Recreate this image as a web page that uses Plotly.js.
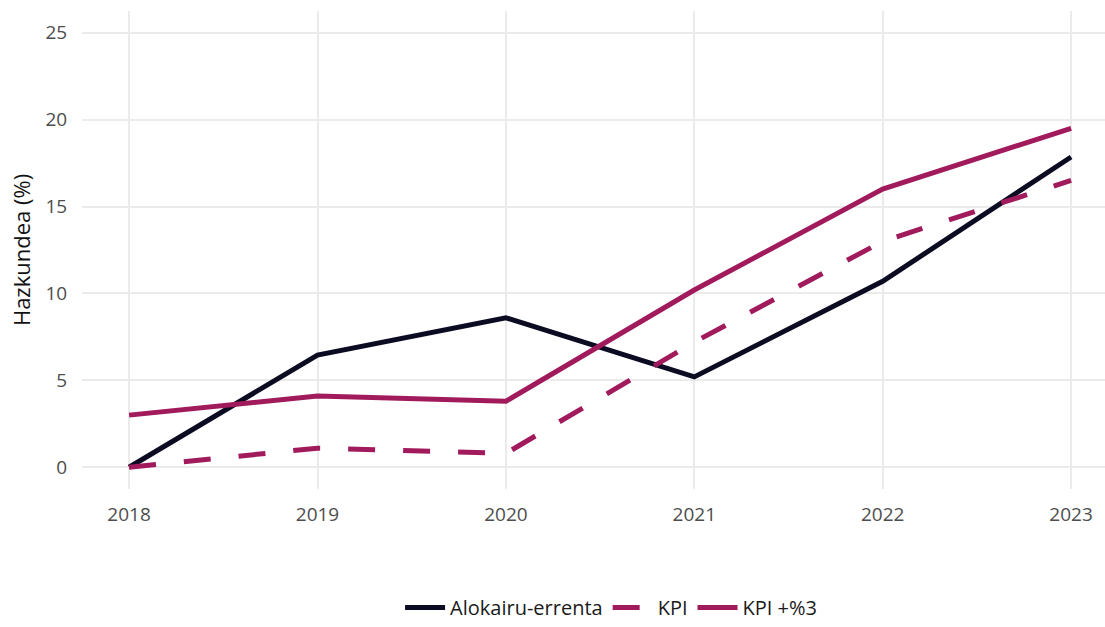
<!DOCTYPE html>
<html>
<head>
<meta charset="utf-8">
<script src="https://cdn.plot.ly/plotly-3.0.1.min.js"></script>
<style>html,body{margin:0;padding:0;background:#fff;}#chart{width:1105px;height:627px;}</style>
</head>
<body>
<div id="chart"></div>
<script>
const years = [2018, 2019, 2020, 2021, 2022, 2023];
const alokairu = [0, 6.45, 8.6, 5.2, 10.7, 17.85];
const kpi = [0, 1.1, 0.8, 7.2, 13.0, 16.5];
const kpi3 = [3.0, 4.1, 3.8, 10.2, 16.0, 19.5];
const seriesNames = ["Alokairu-errenta", "KPI", "KPI +%3"];

const dark = "#0b0b22";
const mag = "#a01a5c";

const traces = [
  {x: years, y: alokairu, name: seriesNames[0], mode: "lines", line: {color: dark, width: 5}},
  {x: years, y: kpi, name: seriesNames[1], mode: "lines", line: {color: mag, width: 5, dash: "27px,28px"}},
  {x: years, y: kpi3, name: seriesNames[2], mode: "lines", line: {color: mag, width: 5}}
];

const fontFam = "'Open Sans', 'Liberation Sans', sans-serif";
const layout = {
  width: 1105, height: 627,
  margin: {l: 82, r: 0, t: 11, b: 138},
  paper_bgcolor: "#fff", plot_bgcolor: "#fff",
  font: {family: fontFam, size: 19, color: "#4d4d4d"},
  showlegend: true,
  legend: {orientation: "h", xref: "container", yref: "container", x: 0.553, xanchor: "center", y: 0.0, yanchor: "bottom",
           font: {size: 20, color: "#1a1a1a"}, itemwidth: 40, tracegroupgap: 0},
  xaxis: {range: [2017.75, 2023.18], tickvals: years, ticktext: years.map(String),
          showgrid: true, gridcolor: "#ebebeb", gridwidth: 2, zeroline: false, showline: false,
          ticks: "outside", ticklen: 8, tickcolor: "rgba(0,0,0,0)", tickfont: {size: 19, color: "#4d4d4d"}},
  yaxis: {range: [-1.25, 26.25], tickvals: [0, 5, 10, 15, 20, 25],
          showgrid: true, gridcolor: "#ebebeb", gridwidth: 2, zeroline: false, showline: false,
          ticks: "outside", ticklen: 10, tickcolor: "rgba(0,0,0,0)", tickfont: {size: 19, color: "#4d4d4d"},
          title: {text: "Hazkundea (%)", font: {size: 22, color: "#111"}, standoff: 8}}
};

Plotly.newPlot("chart", traces, layout, {displayModeBar: false, staticPlot: true});
</script>
</body>
</html>
